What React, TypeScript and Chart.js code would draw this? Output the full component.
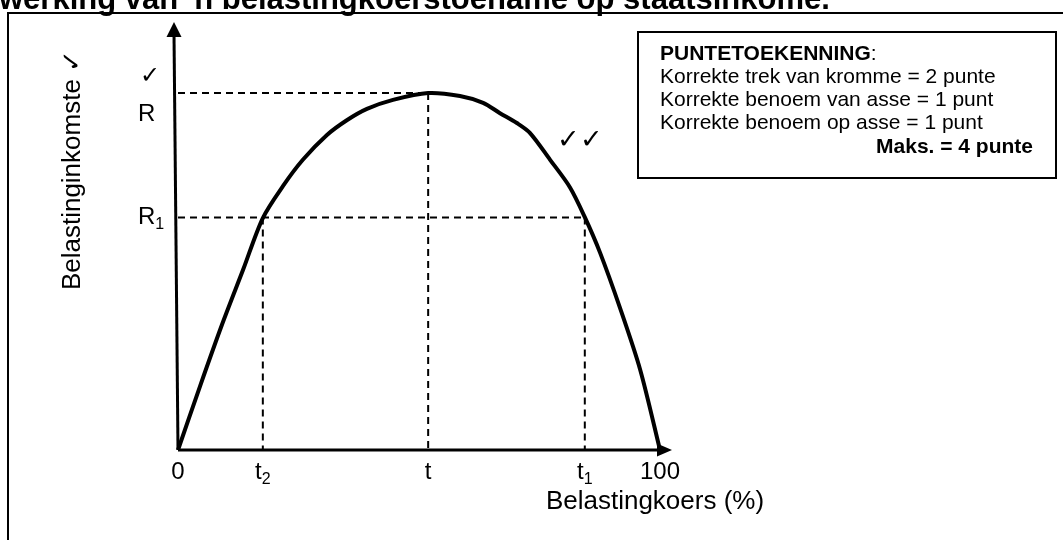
import React, { useEffect, useRef } from "react";
import { Chart, registerables } from "chart.js";

Chart.register(...registerables);

// Belastingkoers (%) vs Belastinginkomste (Laffer curve)
const curveX = [0, 4.6, 9.1, 13.5, 17.6, 21.8, 25.9, 30.9, 35.1, 39.2, 44.6, 51.9, 58.5, 63.3, 66.8, 70.3, 73.0, 77.2, 81.3, 84.4, 87.6, 91.7, 95.9, 100];
const curveY = [0, 15.0, 29.2, 42.1, 54.2, 61.7, 67.8, 73.6, 77.1, 79.7, 81.8, 83.4, 82.7, 81.1, 78.7, 76.4, 74.1, 67.8, 61.4, 54.4, 46.0, 33.2, 18.7, 0];

const R = 83.4;
const R1 = 54.3;
const T2 = 17.6;
const T = 51.9;
const T1 = 84.4;

const xTickValues = [0, T2, T, T1, 100];
const xTickLabels: [string, string][] = [["0", ""], ["t", "2"], ["t", ""], ["t", "1"], ["100", ""]];
const yTickValues = [R, R1];
const yTickLabels: [string, string][] = [["R", ""], ["R", "1"]];

const titleText = "werking van 'n belastingkoerstoename op staatsinkome.";
const xAxisTitle = "Belastingkoers (%)";
const yAxisTitle = "Belastinginkomste ✓";
const boxHeading = "PUNTETOEKENNING";
const boxLines = [
  "Korrekte trek van kromme = 2 punte",
  "Korrekte benoem van asse = 1 punt",
  "Korrekte benoem op asse = 1 punt",
];
const boxTotal = "Maks. = 4 punte";

const FONT = "'Liberation Sans', Arial, sans-serif";

function drawSub(ctx: CanvasRenderingContext2D, main: string, sub: string, cx: number, cy: number, size: number, align: "center" | "left") {
  ctx.font = `${size}px ${FONT}`;
  const mw = ctx.measureText(main).width;
  ctx.font = `${Math.round(size * 0.65)}px ${FONT}`;
  const sw = sub ? ctx.measureText(sub).width : 0;
  const total = mw + sw;
  const left = align === "center" ? cx - total / 2 : cx;
  ctx.textAlign = "left";
  ctx.textBaseline = "middle";
  ctx.font = `${size}px ${FONT}`;
  ctx.fillText(main, left, cy);
  if (sub) {
    ctx.font = `${Math.round(size * 0.65)}px ${FONT}`;
    ctx.fillText(sub, left + mw, cy + size * 0.3);
  }
}

const overlay = {
  id: "overlay",
  beforeDatasetsDraw(chart: any) {
    const { ctx, scales } = chart;
    const xs = scales.x;
    const ys = scales.y;
    const x0 = xs.getPixelForValue(0);
    const y0 = ys.getPixelForValue(0);
    const xEnd = xs.getPixelForValue(100);
    const yTop = ys.getPixelForValue(100);
    ctx.save();
    ctx.strokeStyle = "#000";
    ctx.fillStyle = "#000";
    ctx.lineWidth = 3;
    // y axis (slightly slanted as in the drawing)
    ctx.beginPath();
    ctx.moveTo(x0, y0);
    ctx.lineTo(x0 - 4, yTop + 12);
    ctx.stroke();
    ctx.beginPath();
    ctx.moveTo(x0 - 4, yTop);
    ctx.lineTo(x0 - 4 - 7.5, yTop + 15);
    ctx.lineTo(x0 - 4 + 7.5, yTop + 15);
    ctx.closePath();
    ctx.fill();
    // x axis
    ctx.beginPath();
    ctx.moveTo(x0, y0);
    ctx.lineTo(xEnd + 2, y0);
    ctx.stroke();
    ctx.beginPath();
    ctx.moveTo(xEnd + 12, y0);
    ctx.lineTo(xEnd - 3, y0 - 6.5);
    ctx.lineTo(xEnd - 3, y0 + 6.5);
    ctx.closePath();
    ctx.fill();
    ctx.restore();
  },
  afterDatasetsDraw(chart: any) {
    const { ctx, scales } = chart;
    const xs = scales.x;
    const ys = scales.y;
    const y0 = ys.getPixelForValue(0);
    ctx.save();
    ctx.fillStyle = "#000";
    ctx.strokeStyle = "#000";

    // title (cut off at the top)
    ctx.font = `bold 31px ${FONT}`;
    ctx.textAlign = "left";
    ctx.textBaseline = "alphabetic";
    ctx.fillText(titleText, -1, 9);

    // outer frame
    ctx.lineWidth = 2;
    ctx.beginPath();
    ctx.moveTo(1063, 13);
    ctx.lineTo(8, 13);
    ctx.lineTo(8, 540);
    ctx.stroke();

    // x tick labels
    xTickValues.forEach((v, i) => {
      const [m, s] = xTickLabels[i];
      drawSub(ctx, m, s, xs.getPixelForValue(v), y0 + 22, 24, "center");
    });
    // y tick labels
    yTickValues.forEach((v, i) => {
      const [m, s] = yTickLabels[i];
      drawSub(ctx, m, s, 138, ys.getPixelForValue(v) + (s ? 0 : 21), 24, "left");
    });
    // check marks
    ctx.textAlign = "center";
    ctx.textBaseline = "middle";
    ctx.font = `24px ${FONT}`;
    ctx.fillText("✓", 150, 76);
    ctx.font = `27px ${FONT}`;
    ctx.fillText("✓✓", 580, 141);

    // x axis title
    ctx.font = `26px ${FONT}`;
    ctx.textAlign = "center";
    ctx.textBaseline = "middle";
    ctx.fillText(xAxisTitle, 655, y0 + 52);

    // y axis title
    ctx.save();
    ctx.translate(73, 170);
    ctx.rotate(-Math.PI / 2);
    ctx.font = `26px ${FONT}`;
    ctx.textAlign = "center";
    ctx.textBaseline = "middle";
    ctx.fillText(yAxisTitle, 0, 0);
    ctx.restore();

    // marks box
    ctx.lineWidth = 2;
    ctx.strokeRect(638, 32, 418, 146);
    ctx.textAlign = "left";
    ctx.textBaseline = "alphabetic";
    ctx.font = `bold 21px ${FONT}`;
    ctx.fillText(boxHeading, 660, 60);
    const hw = ctx.measureText(boxHeading).width;
    ctx.font = `21px ${FONT}`;
    ctx.fillText(":", 660 + hw, 60);
    boxLines.forEach((l, i) => {
      ctx.fillText(l, 660, 83 + i * 23);
    });
    ctx.font = `bold 21px ${FONT}`;
    ctx.textAlign = "right";
    ctx.fillText(boxTotal, 1033, 153);
    ctx.restore();
  },
};

export default function App() {
  const ref = useRef<HTMLCanvasElement | null>(null);
  useEffect(() => {
    if (!ref.current) return;
    document.body.style.margin = "0";
    const dashed = (pts: { x: number; y: number }[]) => ({
      type: "line" as const,
      data: pts,
      borderColor: "#000",
      borderWidth: 2,
      borderDash: [7, 5],
      pointRadius: 0,
      tension: 0,
      fill: false,
      clip: false as any,
    });
    const chart = new Chart(ref.current, {
      type: "line",
      data: {
        datasets: [
          {
            data: curveX.map((x, i) => ({ x, y: curveY[i] })),
            borderColor: "#000",
            borderWidth: 4,
            pointRadius: 0,
            tension: 0.3,
            fill: false,
            clip: false as any,
          },
          dashed([{ x: 0, y: R }, { x: T, y: R }]),
          dashed([{ x: T, y: R }, { x: T, y: 0 }]),
          dashed([{ x: 0, y: R1 }, { x: T1, y: R1 }]),
          dashed([{ x: T2, y: R1 }, { x: T2, y: 0 }]),
          dashed([{ x: T1, y: R1 }, { x: T1, y: 0 }]),
        ],
      },
      options: {
        responsive: false,
        animation: false,
        events: [],
        layout: { padding: { left: 178, right: 403, top: 22, bottom: 90 } },
        plugins: { legend: { display: false }, tooltip: { enabled: false }, title: { display: false } },
        scales: {
          x: { type: "linear", min: 0, max: 100, display: false },
          y: { type: "linear", min: 0, max: 100, display: false },
        },
      },
      plugins: [overlay],
    });
    return () => chart.destroy();
  }, []);
  return (
    <div style={{ position: "absolute", left: 0, top: 0, width: 1063, height: 540, background: "#fff" }}>
      <canvas ref={ref} width={1063} height={540} style={{ display: "block" }} />
    </div>
  );
}
